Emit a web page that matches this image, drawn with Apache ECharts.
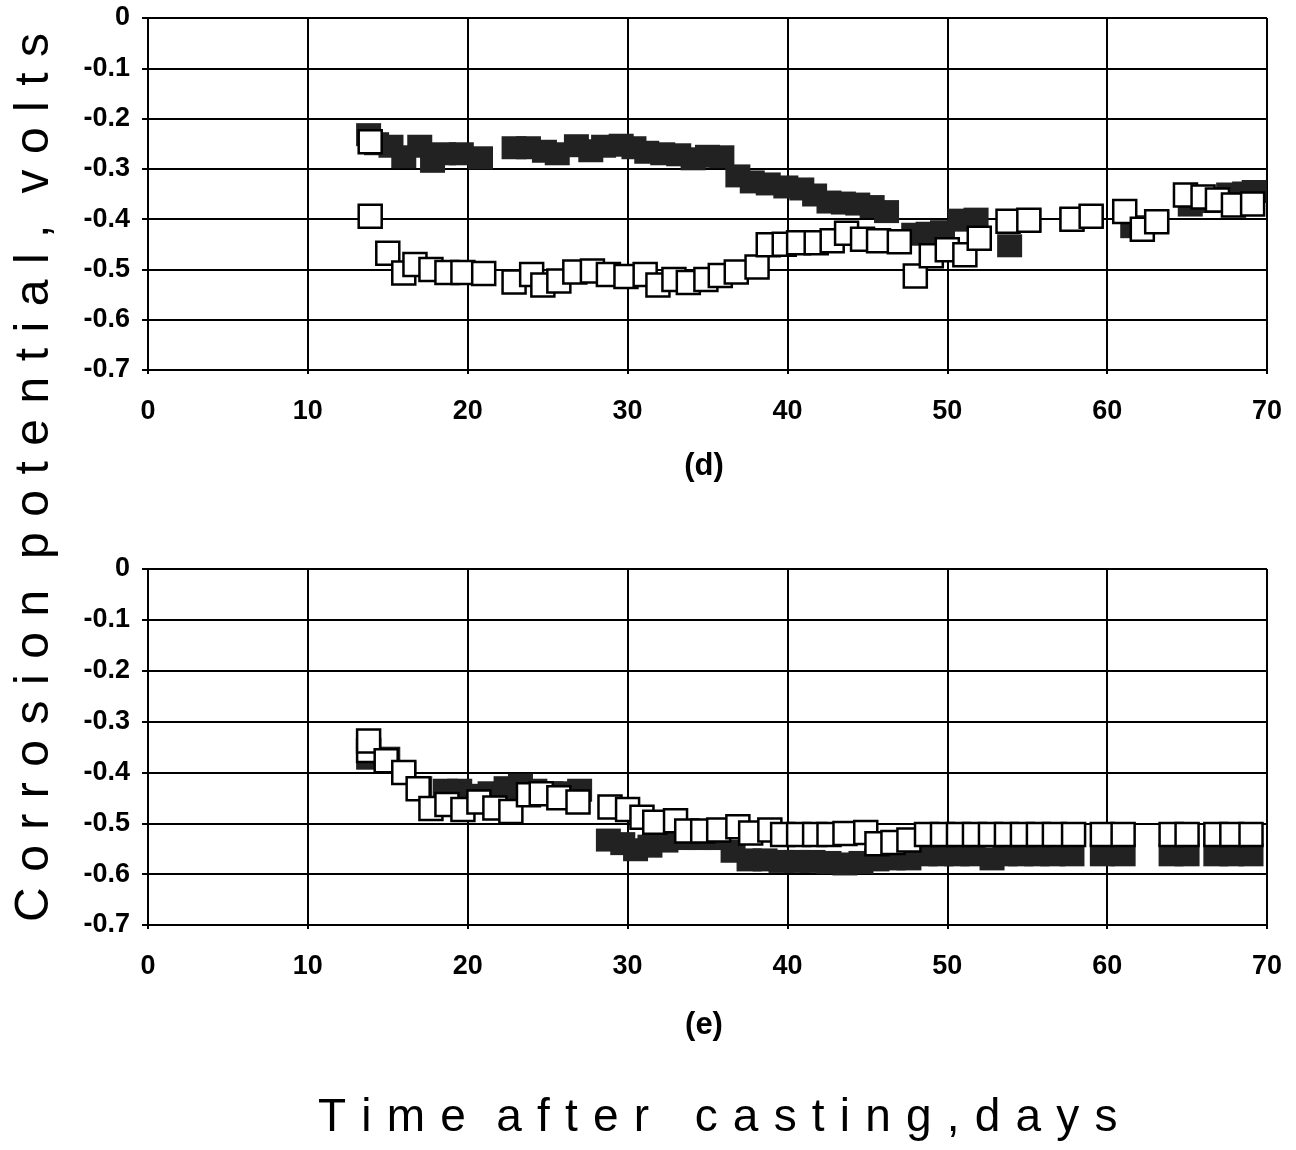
<!DOCTYPE html>
<html>
<head>
<meta charset="utf-8">
<title>Corrosion potential vs time after casting</title>
<script src="https://cdn.jsdelivr.net/npm/echarts@6/dist/echarts.min.js"></script>
<style>
  html, body { margin: 0; padding: 0; background: #fff; }
  #chart { width: 1296px; height: 1150px; }
</style>
</head>
<body>
<div id="chart"></div>
<script>
// Axis ticks (volts and days)
const voltTicks = [0, -0.1, -0.2, -0.3, -0.4, -0.5, -0.6, -0.7];
const dayTicks = [0, 10, 20, 30, 40, 50, 60, 70];

// Panel (d): filled-square specimen
const dDaysFilled = [13.8, 14.3, 15.2, 16.0, 17.0, 17.8, 18.5, 19.6, 20.8, 22.9, 23.8, 24.8, 25.6, 26.8, 27.7, 28.5, 29.6, 30.4, 31.2, 32.2, 33.2, 34.1, 35.0, 35.9, 36.9, 37.8, 38.8, 39.9, 40.9, 41.7, 42.6, 43.5, 44.4, 45.3, 46.2, 47.9, 48.8, 49.7, 50.8, 51.8, 53.9, 55.1, 57.8, 59.0, 61.6, 63.1, 65.2, 66.3, 67.6, 68.6, 69.2];
const dVoltsFilled = [-0.232, -0.25, -0.255, -0.276, -0.255, -0.285, -0.27, -0.27, -0.278, -0.258, -0.258, -0.265, -0.27, -0.254, -0.264, -0.255, -0.253, -0.258, -0.267, -0.27, -0.272, -0.28, -0.275, -0.276, -0.314, -0.326, -0.33, -0.336, -0.34, -0.352, -0.366, -0.368, -0.37, -0.375, -0.385, -0.43, -0.428, -0.425, -0.402, -0.40, -0.453, -0.402, -0.40, -0.394, -0.415, -0.405, -0.372, -0.365, -0.35, -0.348, -0.345];

// Panel (d): open-square specimen
const dDaysOpen = [13.9, 13.9, 15.0, 16.0, 16.7, 17.7, 18.7, 19.7, 21.0, 22.9, 24.0, 24.7, 25.7, 26.7, 27.8, 28.8, 29.9, 31.1, 31.9, 32.9, 33.8, 34.9, 35.8, 36.8, 38.1, 38.8, 39.8, 40.7, 41.8, 42.8, 43.7, 44.7, 45.7, 47.0, 48.0, 49.0, 50.0, 51.1, 52.0, 53.8, 55.1, 57.8, 59.0, 61.1, 62.2, 63.1, 64.9, 66.0, 66.9, 67.9, 69.1];
const dVoltsOpen = [-0.246, -0.394, -0.468, -0.507, -0.49, -0.50, -0.506, -0.506, -0.508, -0.525, -0.51, -0.531, -0.523, -0.505, -0.503, -0.51, -0.514, -0.51, -0.531, -0.52, -0.526, -0.52, -0.512, -0.505, -0.495, -0.451, -0.45, -0.447, -0.447, -0.443, -0.428, -0.44, -0.443, -0.445, -0.513, -0.473, -0.461, -0.471, -0.438, -0.404, -0.402, -0.40, -0.394, -0.385, -0.42, -0.405, -0.352, -0.356, -0.362, -0.372, -0.37];

// Panel (e): filled-square specimen
const eDaysFilled = [13.8, 15.0, 16.0, 17.0, 18.6, 19.5, 20.4, 21.4, 22.4, 23.3, 24.2, 25.2, 26.2, 27.0, 28.8, 29.7, 30.5, 31.4, 32.4, 33.5, 34.5, 35.5, 36.6, 37.6, 38.6, 39.6, 40.6, 41.6, 42.6, 43.6, 44.6, 45.6, 46.6, 47.6, 48.6, 49.6, 50.6, 51.6, 52.8, 53.6, 54.6, 55.6, 56.6, 57.8, 59.7, 61.0, 64.0, 65.0, 66.8, 67.8, 69.0];
const eVoltsFilled = [-0.372, -0.372, -0.40, -0.43, -0.435, -0.435, -0.445, -0.44, -0.43, -0.425, -0.435, -0.44, -0.44, -0.435, -0.533, -0.54, -0.552, -0.545, -0.535, -0.53, -0.53, -0.53, -0.555, -0.572, -0.572, -0.575, -0.575, -0.575, -0.577, -0.58, -0.577, -0.572, -0.57, -0.57, -0.562, -0.562, -0.562, -0.562, -0.57, -0.562, -0.562, -0.562, -0.562, -0.562, -0.562, -0.562, -0.562, -0.562, -0.562, -0.562, -0.562];

// Panel (e): open-square specimen
const eDaysOpen = [13.8, 13.8, 14.9, 16.0, 16.9, 17.7, 18.7, 19.7, 20.7, 21.7, 22.7, 23.8, 24.6, 25.7, 26.9, 28.9, 30.0, 30.9, 31.7, 33.0, 33.7, 34.7, 35.7, 36.9, 37.7, 38.9, 39.7, 40.7, 41.7, 42.6, 43.6, 44.9, 45.6, 46.6, 47.6, 48.7, 49.7, 50.7, 51.7, 52.7, 53.7, 54.7, 55.7, 56.7, 57.9, 59.7, 61.0, 64.0, 65.0, 66.8, 67.8, 69.0];
const eVoltsOpen = [-0.357, -0.338, -0.377, -0.40, -0.432, -0.471, -0.463, -0.473, -0.458, -0.47, -0.477, -0.444, -0.442, -0.45, -0.458, -0.468, -0.473, -0.488, -0.498, -0.495, -0.515, -0.515, -0.513, -0.507, -0.519, -0.513, -0.522, -0.522, -0.522, -0.522, -0.52, -0.518, -0.54, -0.538, -0.533, -0.522, -0.522, -0.522, -0.522, -0.522, -0.522, -0.522, -0.522, -0.522, -0.522, -0.522, -0.522, -0.522, -0.522, -0.522, -0.522, -0.522];

// Panel captions and axis titles
const panelLabels = ['(d)', '(e)'];
const yTitle = 'Corrosion potential, volts';
const xTitle = 'Time after casting,days';

const FONT = '"Liberation Sans", Arial, Helvetica, sans-serif';

function pairs(xs, ys) { return xs.map((x, i) => [x, ys[i]]); }

// Lay out a string letter by letter with extra tracking; each space
// advances by its own width.
const measureCtx = document.createElement('canvas').getContext('2d');
function trackedLetters(str, size, weight, tracking, spaceWidth) {
  measureCtx.font = weight + ' ' + size + 'px ' + FONT;
  const items = [];
  let pos = 0;
  for (let i = 0; i < str.length; i++) {
    const ch = str[i];
    if (ch === ' ') { pos += spaceWidth + tracking; continue; }
    items.push({ ch: ch, x: pos });
    pos += measureCtx.measureText(ch).width + tracking;
  }
  return { items: items, width: pos - tracking };
}

function letterGroup(str, size, weight, tracking, spaceWidth, x, y, rotation) {
  const lay = trackedLetters(str, size, weight, tracking, spaceWidth);
  return {
    type: 'group', x: x, y: y, rotation: rotation || 0, silent: true,
    children: lay.items.map(it => ({
      type: 'text', x: it.x, y: 0,
      style: { text: it.ch, fill: '#000', font: weight + ' ' + size + 'px ' + FONT,
               textAlign: 'left', textVerticalAlign: 'middle' }
    }))
  };
}

const valueTicks = new Set(voltTicks.map(v => Math.round(v * 10)));
function voltLabel(v) {
  const r = Math.round(v * 10);
  if (!valueTicks.has(r)) return '';
  return r === 0 ? '0' : (r / 10).toFixed(1);
}

const tickLabelStyle = { color: '#000', fontSize: 27, fontWeight: 'bold', fontFamily: FONT };
const lineBlack = { color: '#000', width: 2 };

function xAxisFor(grid) {
  return {
    gridIndex: grid, type: 'value', min: dayTicks[0], max: dayTicks[dayTicks.length - 1], interval: 10,
    axisLine: { show: true, onZero: false, lineStyle: lineBlack },
    axisTick: { show: true, length: 4, lineStyle: lineBlack },
    axisLabel: Object.assign({ margin: 28 }, tickLabelStyle),
    splitLine: { show: true, lineStyle: lineBlack }
  };
}
function yAxisFor(grid) {
  return {
    gridIndex: grid, type: 'value', min: voltTicks[voltTicks.length - 1], max: voltTicks[0], interval: 0.1,
    axisLine: { show: true, onZero: false, lineStyle: lineBlack },
    axisTick: { show: true, length: 6, lineStyle: lineBlack },
    axisLabel: Object.assign({ margin: 18, formatter: voltLabel }, tickLabelStyle),
    splitLine: { show: true, lineStyle: lineBlack }
  };
}

const filledStyle = { color: '#222', opacity: 1 };
const openStyle = { color: '#fff', borderColor: '#000', borderWidth: 2.5, opacity: 1 };

function scatter(grid, data, style, size) {
  return {
    type: 'scatter', xAxisIndex: grid, yAxisIndex: grid, data: data,
    symbol: 'rect', symbolSize: size, itemStyle: style, silent: true,
    emphasis: { disabled: true }
  };
}

const chart = echarts.init(document.getElementById('chart'), null, { renderer: 'canvas' });

const yTitleGroup = letterGroup(yTitle, 48, 'normal', 15.5, 0, 35, 922, Math.PI / 2);
const xTitleGroup = letterGroup(xTitle.replace('after ', 'after  '), 46, 'normal', 15.2, 0, 318, 1118, 0);

chart.setOption({
  animation: false,
  backgroundColor: '#fff',
  grid: [
    { left: 148, top: 18, width: 1119, height: 352 },
    { left: 148, top: 569, width: 1119, height: 356 }
  ],
  xAxis: [xAxisFor(0), xAxisFor(1)],
  yAxis: [yAxisFor(0), yAxisFor(1)],
  series: [
    scatter(0, pairs(dDaysFilled, dVoltsFilled), filledStyle, [25, 23]),
    scatter(0, pairs(dDaysOpen, dVoltsOpen), openStyle, [23, 23]),
    scatter(1, pairs(eDaysFilled, eVoltsFilled), filledStyle, [25, 23]),
    scatter(1, pairs(eDaysOpen, eVoltsOpen), openStyle, [23, 23])
  ],
  graphic: [
    { type: 'text', x: 704, y: 466, silent: true,
      style: { text: panelLabels[0], fill: '#000', font: 'bold 31px ' + FONT, textAlign: 'center', textVerticalAlign: 'middle' } },
    { type: 'text', x: 704, y: 1025, silent: true,
      style: { text: panelLabels[1], fill: '#000', font: 'bold 31px ' + FONT, textAlign: 'center', textVerticalAlign: 'middle' } },
    yTitleGroup,
    xTitleGroup
  ]
});
</script>
</body>
</html>
